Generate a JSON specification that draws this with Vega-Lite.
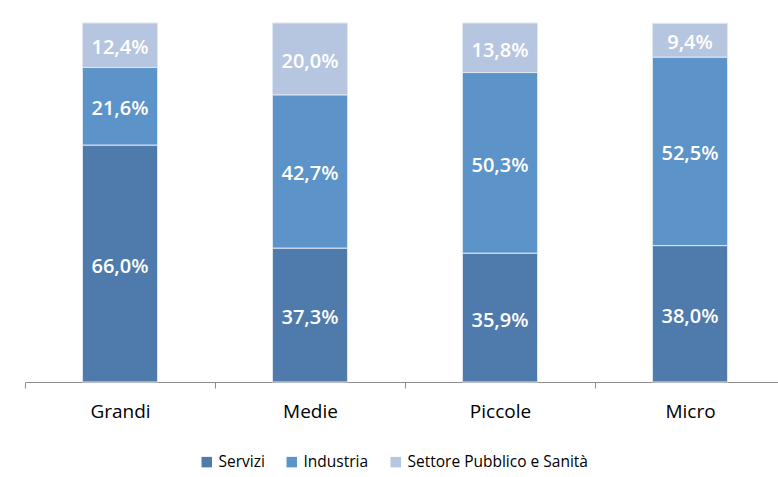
{
  "$schema": "https://vega.github.io/schema/vega-lite/v6.json",
  "autosize": "none",
  "width": 760,
  "height": 359,
  "padding": {"left": 25, "top": 23, "right": 0, "bottom": 95},
  "background": "white",
  "config": {"view": {"stroke": null}, "font": "Open Sans"},
  "data": {
    "values": [
      {"cat": "Grandi", "sector": "Servizi", "rank": 1, "value": 66.0, "label": "66,0%"},
      {"cat": "Grandi", "sector": "Industria", "rank": 2, "value": 21.6, "label": "21,6%"},
      {"cat": "Grandi", "sector": "Settore Pubblico e Sanità", "rank": 3, "value": 12.4, "label": "12,4%"},
      {"cat": "Medie", "sector": "Servizi", "rank": 1, "value": 37.3, "label": "37,3%"},
      {"cat": "Medie", "sector": "Industria", "rank": 2, "value": 42.7, "label": "42,7%"},
      {"cat": "Medie", "sector": "Settore Pubblico e Sanità", "rank": 3, "value": 20.0, "label": "20,0%"},
      {"cat": "Piccole", "sector": "Servizi", "rank": 1, "value": 35.9, "label": "35,9%"},
      {"cat": "Piccole", "sector": "Industria", "rank": 2, "value": 50.3, "label": "50,3%"},
      {"cat": "Piccole", "sector": "Settore Pubblico e Sanità", "rank": 3, "value": 13.8, "label": "13,8%"},
      {"cat": "Micro", "sector": "Servizi", "rank": 1, "value": 38.0, "label": "38,0%"},
      {"cat": "Micro", "sector": "Industria", "rank": 2, "value": 52.5, "label": "52,5%"},
      {"cat": "Micro", "sector": "Settore Pubblico e Sanità", "rank": 3, "value": 9.4, "label": "9,4%"}
    ]
  },
  "encoding": {
    "x": {
      "field": "cat", "type": "nominal",
      "sort": ["Grandi", "Medie", "Piccole", "Micro"],
      "scale": {"paddingInner": 0, "paddingOuter": 0},
      "axis": {
        "title": null, "labelAngle": 0, "tickBand": "extent",
        "domainColor": "#8c8c8c", "tickColor": "#8c8c8c", "tickSize": 6,
        "labelFontSize": 19, "labelColor": "#000000", "labelPadding": 14,
        "labelFont": "Open Sans"
      }
    },
    "y": {
      "field": "value", "type": "quantitative", "stack": "zero",
      "scale": {"domain": [0, 100], "nice": false}, "axis": null
    },
    "order": {"field": "rank", "type": "quantitative", "sort": "ascending"}
  },
  "layer": [
    {
      "mark": {"type": "bar", "width": {"band": 0.395}, "stroke": "#dfe6f1", "strokeWidth": 1},
      "encoding": {
        "color": {
          "field": "sector", "type": "nominal",
          "scale": {
            "domain": ["Servizi", "Industria", "Settore Pubblico e Sanità"],
            "range": ["#4e7bab", "#5c93c8", "#b7c6e0"]
          },
          "legend": {
            "orient": "none", "legendX": 174, "legendY": 431,
            "direction": "horizontal", "title": null, "padding": 0,
            "symbolType": "square", "symbolSize": 110, "symbolStrokeWidth": 0,
            "labelFontSize": 15.5, "labelOffset": 4, "columnPadding": 19,
            "labelLimit": 400,
            "labelFont": "Open Sans", "labelColor": "#000000"
          }
        }
      }
    },
    {
      "mark": {"type": "text", "fontSize": 20, "fontWeight": 600, "dy": 3, "font": "Open Sans", "color": "#ffffff"},
      "encoding": {
        "y": {"field": "value", "type": "quantitative", "stack": "zero", "bandPosition": 0.5},
        "text": {"field": "label"},
        "detail": {"field": "sector", "type": "nominal"}
      }
    }
  ]
}
